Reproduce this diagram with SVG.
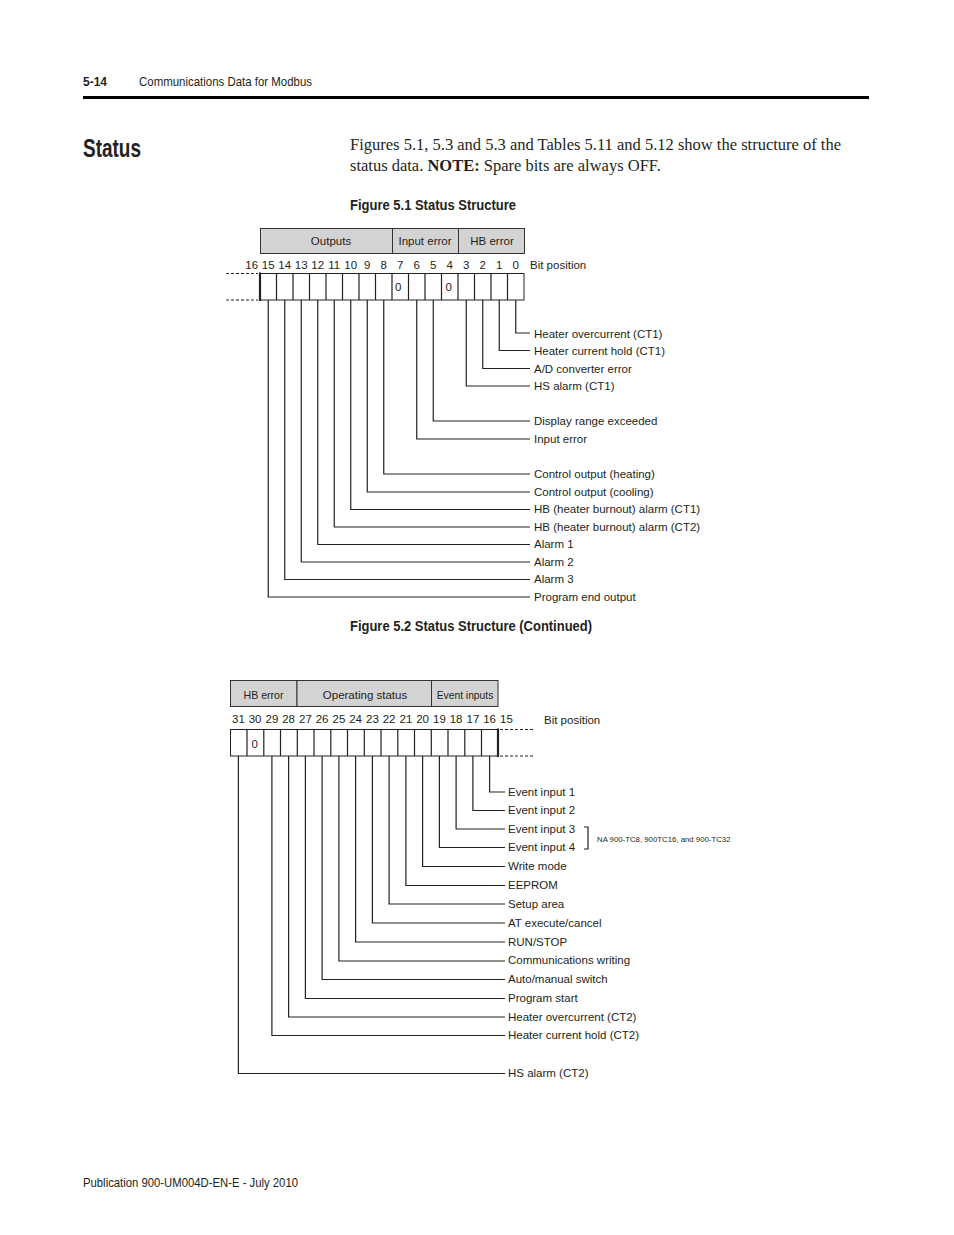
<svg xmlns="http://www.w3.org/2000/svg" width="954" height="1235" viewBox="0 0 954 1235">
<style>
text{font-family:"Liberation Sans",Arial,sans-serif;fill:#231f20}
.lbl{font-size:11.5px}
.num{font-size:11.5px;text-anchor:middle}
.hdr{fill:#d3d3d3;stroke:#333;stroke-width:1}
.cell{fill:#fff;stroke:#222;stroke-width:1}
.ln{fill:none;stroke:#222;stroke-width:1.2}
.dash{stroke:#222;stroke-width:1;stroke-dasharray:3 2}
.body{font-family:"Liberation Serif","Times New Roman",serif;font-size:16.5px}
</style>
<!-- page header -->
<g id="page">
<text x="83" y="86" font-size="13" font-weight="bold" textLength="24" lengthAdjust="spacingAndGlyphs">5-14</text>
<text x="139" y="86" font-size="13" textLength="173" lengthAdjust="spacingAndGlyphs">Communications Data for Modbus</text>
<rect x="83" y="96" width="786" height="3" fill="#000"/>
<text x="83" y="157" font-size="25" font-weight="bold" textLength="58" lengthAdjust="spacingAndGlyphs">Status</text>
<text class="body" x="350" y="150">Figures 5.1, 5.3 and 5.3 and Tables 5.11 and 5.12 show the structure of the</text>
<text class="body" x="350" y="171">status data. <tspan font-weight="bold">NOTE:</tspan> Spare bits are always OFF.</text>
<text x="350" y="210" font-size="14" font-weight="bold" textLength="166" lengthAdjust="spacingAndGlyphs">Figure 5.1 Status Structure</text>
<text x="350" y="631" font-size="14" font-weight="bold" textLength="242" lengthAdjust="spacingAndGlyphs">Figure 5.2 Status Structure (Continued)</text>
<text x="83" y="1187" font-size="13.5" textLength="215" lengthAdjust="spacingAndGlyphs">Publication 900-UM004D-EN-E - July 2010</text>
</g>

<!-- Figure 5.1 -->
<g id="fig1-header">
<rect class="hdr" x="260.5" y="228.5" width="132" height="25"/>
<rect class="hdr" x="392.5" y="228.5" width="66" height="25"/>
<rect class="hdr" x="458.5" y="228.5" width="66" height="25"/>
<text class="lbl" x="331" y="245" text-anchor="middle">Outputs</text>
<text class="lbl" x="425" y="245" text-anchor="middle">Input error</text>
<text class="lbl" x="492" y="245" text-anchor="middle">HB error</text>
</g>
<g id="fig1-bits">
<text class="num" x="251.75" y="269">16</text>
<text class="num" x="268.25" y="269">15</text>
<text class="num" x="284.75" y="269">14</text>
<text class="num" x="301.25" y="269">13</text>
<text class="num" x="317.75" y="269">12</text>
<text class="num" x="334.25" y="269">11</text>
<text class="num" x="350.75" y="269">10</text>
<text class="num" x="367.25" y="269">9</text>
<text class="num" x="383.75" y="269">8</text>
<text class="num" x="400.25" y="269">7</text>
<text class="num" x="416.75" y="269">6</text>
<text class="num" x="433.25" y="269">5</text>
<text class="num" x="449.75" y="269">4</text>
<text class="num" x="466.25" y="269">3</text>
<text class="num" x="482.75" y="269">2</text>
<text class="num" x="499.25" y="269">1</text>
<text class="num" x="515.75" y="269">0</text>
<text class="lbl" x="530" y="269">Bit position</text>
<rect class="cell" x="260" y="273.5" width="264" height="26.5" stroke-width="1.5"/>
<path class="ln" stroke-width="1" d="M276.5 273.5V300M293 273.5V300M309.5 273.5V300M326 273.5V300M342.5 273.5V300M359 273.5V300M375.5 273.5V300M392 273.5V300M408.5 273.5V300M425 273.5V300M441.5 273.5V300M458 273.5V300M474.5 273.5V300M491 273.5V300M507.5 273.5V300"/>
<path d="M260 272.5V301" stroke="#222" stroke-width="2.2"/>
<path class="dash" d="M226 273.5H258M226 300H258"/>
<text class="lbl" x="395" y="291">0</text>
<text class="lbl" x="445.5" y="291">0</text>
</g>
<g id="fig1-connectors">
<path class="ln" d="M515.75 300V333H530M499.25 300V350.5H530M482.75 300V368.5H530M466.25 300V386H530M433.25 300V421H530M416.75 300V439H530M383.75 300V474H530M367.25 300V492H530M350.75 300V509.5H530M334.25 300V527H530M317.75 300V544.5H530M301.25 300V562H530M284.75 300V579.5H530M268.25 300V597H530"/>
</g>
<g id="fig1-labels">
<text class="lbl" x="534" y="338">Heater overcurrent (CT1)</text>
<text class="lbl" x="534" y="355">Heater current hold (CT1)</text>
<text class="lbl" x="534" y="373">A/D converter error</text>
<text class="lbl" x="534" y="390">HS alarm (CT1)</text>
<text class="lbl" x="534" y="425">Display range exceeded</text>
<text class="lbl" x="534" y="443">Input error</text>
<text class="lbl" x="534" y="478">Control output (heating)</text>
<text class="lbl" x="534" y="496">Control output (cooling)</text>
<text class="lbl" x="534" y="513">HB (heater burnout) alarm (CT1)</text>
<text class="lbl" x="534" y="531">HB (heater burnout) alarm (CT2)</text>
<text class="lbl" x="534" y="548">Alarm 1</text>
<text class="lbl" x="534" y="566">Alarm 2</text>
<text class="lbl" x="534" y="583">Alarm 3</text>
<text class="lbl" x="534" y="601">Program end output</text>
</g>

<!-- Figure 5.2 -->
<g id="fig2-header">
<rect class="hdr" x="230.5" y="680.5" width="66.5" height="26"/>
<rect class="hdr" x="297" y="680.5" width="134.5" height="26"/>
<rect class="hdr" x="431.5" y="680.5" width="66.5" height="26"/>
<text x="263.5" y="698.5" text-anchor="middle" style="font-size:10.6px">HB error</text>
<text class="lbl" x="365" y="699" text-anchor="middle">Operating status</text>
<text x="465" y="698.5" text-anchor="middle" style="font-size:10.3px">Event inputs</text>
</g>
<g id="fig2-bits">
<text class="num" x="238.4" y="723">31</text>
<text class="num" x="255.1" y="723">30</text>
<text class="num" x="271.9" y="723">29</text>
<text class="num" x="288.6" y="723">28</text>
<text class="num" x="305.4" y="723">27</text>
<text class="num" x="322.1" y="723">26</text>
<text class="num" x="338.9" y="723">25</text>
<text class="num" x="355.6" y="723">24</text>
<text class="num" x="372.4" y="723">23</text>
<text class="num" x="389.1" y="723">22</text>
<text class="num" x="405.9" y="723">21</text>
<text class="num" x="422.6" y="723">20</text>
<text class="num" x="439.4" y="723">19</text>
<text class="num" x="456.1" y="723">18</text>
<text class="num" x="472.9" y="723">17</text>
<text class="num" x="489.6" y="723">16</text>
<text class="num" x="506.4" y="723">15</text>
<text class="lbl" x="544" y="724">Bit position</text>
<rect class="cell" x="230.5" y="729.5" width="267.5" height="26.5"/>
<path class="ln" stroke-width="1" d="M247 729.5V756M263.8 729.5V756M280.5 729.5V756M297.3 729.5V756M314 729.5V756M330.8 729.5V756M347.5 729.5V756M364.3 729.5V756M381 729.5V756M397.8 729.5V756M414.5 729.5V756M431.3 729.5V756M448 729.5V756M464.8 729.5V756M481.5 729.5V756"/>
<path d="M498 728.5V757" stroke="#222" stroke-width="2.2"/>
<path class="dash" d="M500 729.5H533M500 756H533"/>
<text class="lbl" x="251.5" y="748">0</text>
</g>
<g id="fig2-connectors">
<path class="ln" d="M489.6 756V792H505M472.9 756V810.5H505M456.1 756V829H505M439.4 756V847.5H505M422.6 756V866.5H505M405.9 756V885.5H505M389.1 756V904H505M372.4 756V923H505M355.6 756V942H505M338.9 756V961H505M322.1 756V979.5H505M305.4 756V998.5H505M288.6 756V1017H505M271.9 756V1035.5H505M238.4 756V1073.5H505"/>
<path class="ln" d="M584 827H588V849H584"/>
</g>
<g id="fig2-labels">
<text class="lbl" x="508" y="795.5">Event input 1</text>
<text class="lbl" x="508" y="814">Event input 2</text>
<text class="lbl" x="508" y="832.5">Event input 3</text>
<text class="lbl" x="508" y="851">Event input 4</text>
<text class="lbl" x="508" y="870">Write mode</text>
<text class="lbl" x="508" y="889">EEPROM</text>
<text class="lbl" x="508" y="907.5">Setup area</text>
<text class="lbl" x="508" y="926.5">AT execute/cancel</text>
<text class="lbl" x="508" y="945.5">RUN/STOP</text>
<text class="lbl" x="508" y="964">Communications writing</text>
<text class="lbl" x="508" y="983">Auto/manual switch</text>
<text class="lbl" x="508" y="1002">Program start</text>
<text class="lbl" x="508" y="1020.5">Heater overcurrent (CT2)</text>
<text class="lbl" x="508" y="1039">Heater current hold (CT2)</text>
<text class="lbl" x="508" y="1077">HS alarm (CT2)</text>
<text x="597" y="841.5" font-size="7.8">NA 900-TC8, 900TC16, and 900-TC32</text>
</g>
</svg>
